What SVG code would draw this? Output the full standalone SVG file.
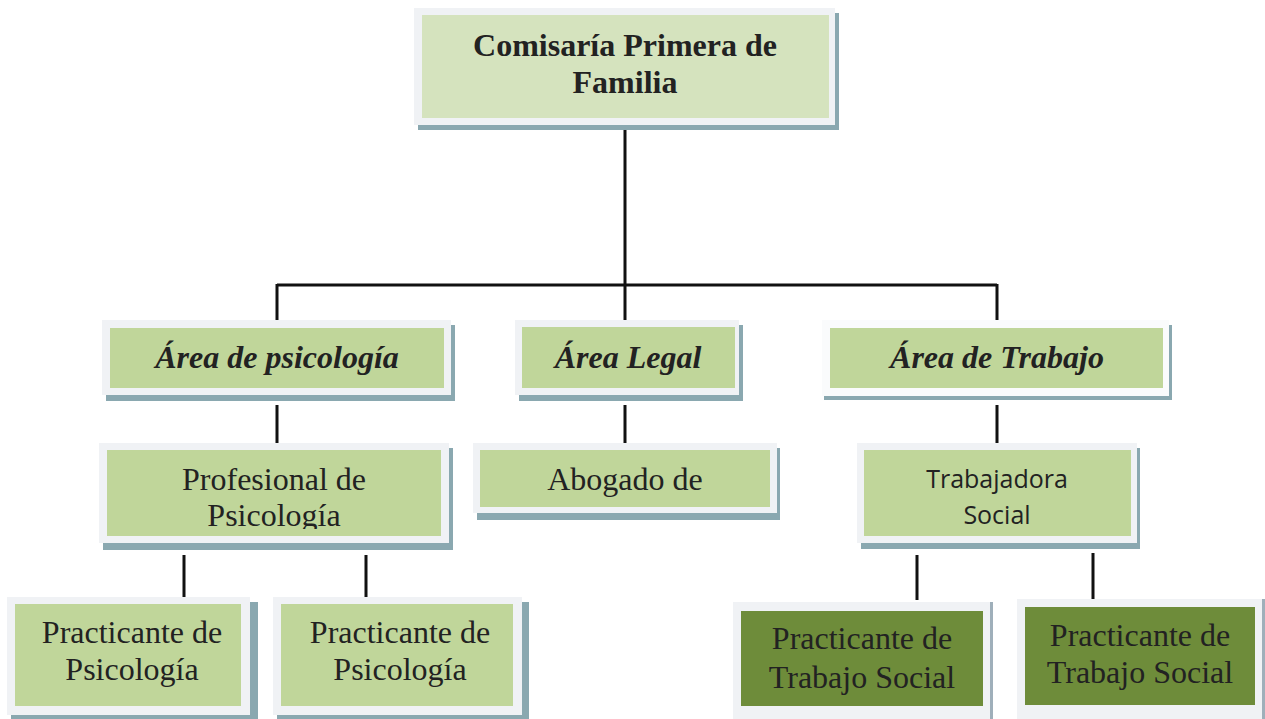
<svg xmlns="http://www.w3.org/2000/svg" width="1265" height="719" viewBox="0 0 1265 719">
<style>
.sh{fill:#8AA8B0}
.fr{fill:#F0F2F5}
.g{fill:#C0D69A}
.dg{fill:#6E8C3A}
.t{font-family:"Liberation Serif","Times New Roman",serif;font-size:32px;fill:#222;text-anchor:middle}
.b{font-weight:bold}
.i{font-style:italic;font-weight:bold}
.s{font-family:"Open Sans","Liberation Sans",sans-serif;font-size:25px;fill:#222;text-anchor:middle}
.c{stroke:#111;stroke-width:3;fill:none}
</style>
<defs>
<clipPath id="clipProf"><rect x="107" y="450" width="334" height="79"/></clipPath>
</defs>
<rect width="1265" height="719" fill="#fff"/>
<g id="connectors">
<path class="c" d="M625 125V285M277 285H997M277 284V322M625 284V322M997 284V322"/>
<path class="c" d="M277 405V443M625 405V443M997 405V443"/>
<path class="c" d="M184 555V597M366 555V597M917 555V600M1093 553V600"/>
</g>
<g id="n-comisaria">
<rect class="sh" x="418" y="13" width="421" height="117"/>
<rect class="fr" x="414" y="8" width="421" height="117"/>
<rect x="422" y="15" width="407" height="103" fill="#D5E3BE"/>
<text class="t b" x="625" y="56">Comisaría Primera de</text>
<text class="t b" x="625" y="93">Familia</text>
</g>
<g id="n-psicologia">
<rect class="sh" x="106" y="325" width="349" height="76"/>
<rect class="fr" x="102" y="320" width="349" height="75"/>
<rect class="g" x="110" y="328" width="334" height="60"/>
<text class="t i" x="277" y="368">Área de psicología</text>
</g>
<g id="n-legal">
<rect class="sh" x="519" y="325" width="224" height="76"/>
<rect class="fr" x="515" y="320" width="224" height="75"/>
<rect class="g" x="522" y="327" width="213" height="61"/>
<text class="t i" x="628" y="368">Área Legal</text>
</g>
<g id="n-trabajo">
<rect class="sh" x="824" y="325" width="348" height="75"/>
<rect x="822" y="320" width="347" height="76" fill="#FAFBFC"/>
<rect class="g" x="830" y="328" width="333" height="60"/>
<text class="t i" x="997" y="368">Área de Trabajo</text>
</g>
<g id="n-profesional">
<rect class="sh" x="103" y="448" width="350" height="102"/>
<rect class="fr" x="99" y="443" width="350" height="100"/>
<rect class="g" x="107" y="450" width="334" height="86"/>
<g clip-path="url(#clipProf)">
<text class="t" x="274" y="490">Profesional de</text>
<text class="t" x="274" y="526">Psicología</text>
</g>
</g>
<g id="n-abogado">
<rect class="sh" x="477" y="448" width="303" height="72"/>
<rect class="fr" x="473" y="443" width="304" height="70"/>
<rect class="g" x="480" y="450" width="290" height="57"/>
<text class="t" x="625" y="490">Abogado de</text>
</g>
<g id="n-trabajadora">
<rect class="sh" x="861" y="448" width="279" height="101"/>
<rect class="fr" x="857" y="443" width="280" height="100"/>
<rect class="g" x="864" y="450" width="267" height="86"/>
<text class="s" x="997" y="488">Trabajadora</text>
<text class="s" x="997" y="524">Social</text>
</g>
<g id="n-pract-psi-1">
<rect class="sh" x="11" y="602" width="247" height="117"/>
<rect class="fr" x="7" y="597" width="243" height="118"/>
<rect class="g" x="15" y="604" width="226" height="102"/>
<text class="t" x="132" y="643">Practicante de</text>
<text class="t" x="132" y="680">Psicología</text>
</g>
<g id="n-pract-psi-2">
<rect class="sh" x="277" y="602" width="252" height="117"/>
<rect class="fr" x="273" y="597" width="249" height="118"/>
<rect class="g" x="281" y="604" width="232" height="102"/>
<text class="t" x="400" y="643">Practicante de</text>
<text class="t" x="400" y="680">Psicología</text>
</g>
<g id="n-pract-ts-1">
<rect x="735" y="602" width="258" height="117" fill="#9FAFBA"/>
<rect class="fr" x="733" y="602" width="257" height="117"/>
<rect class="dg" x="741" y="611" width="242" height="95"/>
<text class="t" x="862" y="649">Practicante de</text>
<text class="t" x="862" y="688">Trabajo Social</text>
</g>
<g id="n-pract-ts-2">
<rect x="1019" y="599" width="246" height="120" fill="#9FAFBA"/>
<rect class="fr" x="1017" y="599" width="245" height="120"/>
<rect class="dg" x="1025" y="607" width="230" height="98"/>
<text class="t" x="1140" y="646">Practicante de</text>
<text class="t" x="1140" y="683">Trabajo Social</text>
</g>
</svg>
